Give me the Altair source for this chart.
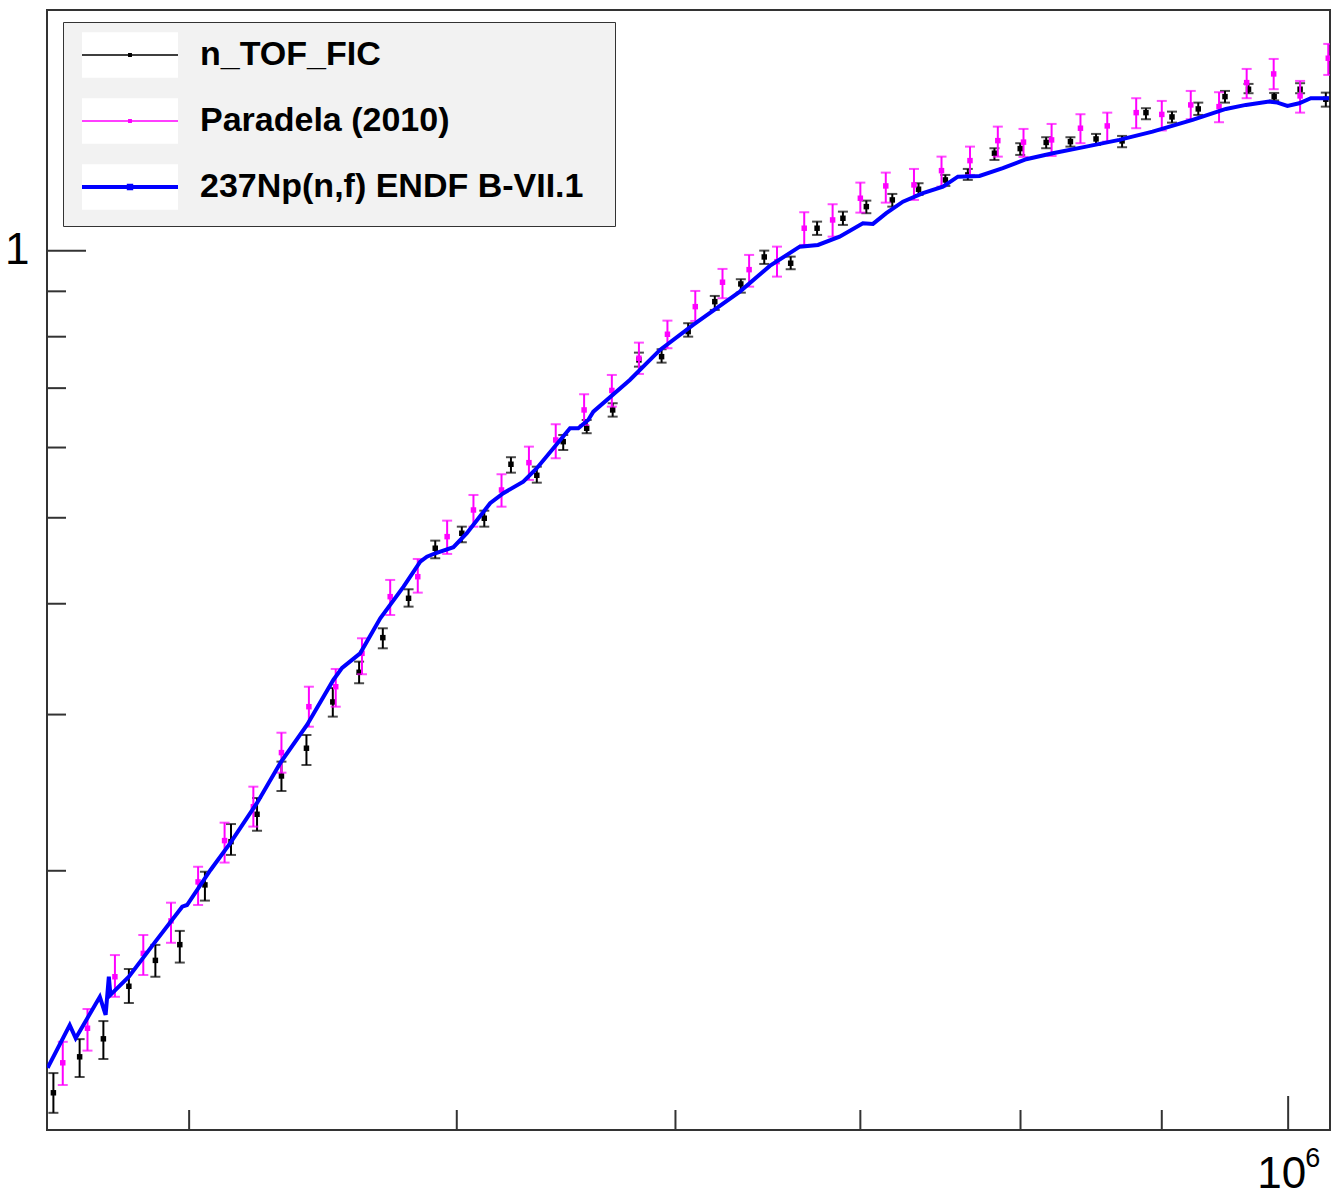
import altair as alt
import pandas as pd

SERIES = ["n_TOF_FIC", "Paradela (2010)", "237Np(n,f) ENDF B-VII.1"]
COLORS = ["#000000", "#ff00ff", "#0000ff"]
WIDTHS = [1.5, 1.5, 4]
BOX_KEYS = ["b0", "b1", "b2"]

# ---- n_TOF_FIC : neutron energy (keV), cross section (b), error-bar limits ----
tof_E = [357.2, 365.1, 372.4, 380.4, 388.9, 396.9, 405.3, 414.2, 423.3, 432.0,
         441.1, 450.9, 460.9, 470.1, 480.3, 491.1, 502.1, 511.6, 523.1, 534.5,
         546.4, 557.2, 569.4, 582.0, 593.1, 606.4, 620.0, 633.6, 646.1, 660.5,
         675.2, 689.9, 703.5, 718.9, 734.8, 751.4, 765.6, 782.8, 799.8, 817.3,
         834.0, 852.0, 870.7, 888.2, 907.7, 927.8, 948.7, 967.5, 988.4, 1010.0,
         1031.9]
tof_xs = [0.1124, 0.1234, 0.1293, 0.1482, 0.1585, 0.1651, 0.1928, 0.2157, 0.2316, 0.2558,
          0.2749, 0.3100, 0.3348, 0.3663, 0.4057, 0.4620, 0.4803, 0.4994, 0.5745, 0.5583,
          0.6092, 0.6308, 0.6615, 0.7532, 0.7596, 0.8106, 0.8762, 0.9174, 0.9840, 0.9681,
          1.0602, 1.0880, 1.1213, 1.1410, 1.1731, 1.2018, 1.2175, 1.2880, 1.3035, 1.3246,
          1.3274, 1.3367, 1.3298, 1.4311, 1.4153, 1.4450, 1.4919, 1.5208, 1.4919, 1.5208,
          1.4818]
tof_hi = [0.1183, 0.1292, 0.1354, 0.1550, 0.1650, 0.1711, 0.1995, 0.2258, 0.2416, 0.2655,
          0.2845, 0.3214, 0.3442, 0.3753, 0.4153, 0.4712, 0.4886, 0.5093, 0.5851, 0.5709,
          0.6199, 0.6445, 0.6731, 0.7676, 0.7744, 0.8285, 0.8893, 0.9287, 1.0003, 0.9848,
          1.0785, 1.1068, 1.1389, 1.1589, 1.1915, 1.2175, 1.2366, 1.3048, 1.3219, 1.3426,
          1.3426, 1.3542, 1.3472, 1.4476, 1.4349, 1.4688, 1.5141, 1.5419, 1.5062, 1.5447,
          1.5074]
tof_lo = [0.1067, 0.1171, 0.1227, 0.1419, 0.1519, 0.1576, 0.1851, 0.2084, 0.2219, 0.2460,
          0.2632, 0.2984, 0.3254, 0.3563, 0.3970, 0.4501, 0.4692, 0.4886, 0.5621, 0.5477,
          0.5962, 0.6227, 0.6501, 0.7402, 0.7479, 0.8001, 0.8576, 0.8969, 0.9663, 0.9531,
          1.0419, 1.0693, 1.1023, 1.1213, 1.1559, 1.1832, 1.2018, 1.2658, 1.2824, 1.3048,
          1.3103, 1.3161, 1.3082, 1.4068, 1.3945, 1.4226, 1.4688, 1.5051, 1.4772, 1.5051,
          1.4536]

# ---- Paradela (2010) ----
par_E = [360.0, 367.5, 376.0, 385.0, 394.0, 403.0, 412.0, 422.0, 432.0, 442.0,
         452.0, 462.0, 473.0, 484.0, 496.0, 507.0, 519.0, 531.0, 543.0, 556.0,
         569.0, 582.0, 596.0, 610.0, 624.0, 638.0, 653.0, 668.0, 684.0, 700.0,
         715.0, 732.0, 749.0, 767.0, 785.0, 802.0, 821.0, 841.0, 860.0, 881.0,
         900.0, 922.0, 944.0, 966.0, 988.0, 1010.0, 1034.0]
par_xs = [0.1215, 0.1329, 0.1519, 0.1614, 0.1756, 0.1943, 0.2163, 0.2362, 0.2718, 0.3062,
          0.3225, 0.3517, 0.4074, 0.4291, 0.4761, 0.5102, 0.5374, 0.5769, 0.6119, 0.6615,
          0.6958, 0.7565, 0.8051, 0.8649, 0.9215, 0.9521, 0.9721, 1.0602, 1.0832, 1.1460,
          1.1832, 1.1863, 1.2311, 1.2635, 1.3308, 1.3257, 1.3333, 1.3744, 1.3826, 1.4311,
          1.4245, 1.4601, 1.4536, 1.5471, 1.5824, 1.4946, 1.6482]
par_hi = [0.1283, 0.1397, 0.1607, 0.1693, 0.1841, 0.2021, 0.2266, 0.2488, 0.2862, 0.3225,
          0.3377, 0.3657, 0.4255, 0.4493, 0.4963, 0.5305, 0.5598, 0.6014, 0.6374, 0.6890,
          0.7244, 0.7878, 0.8341, 0.9009, 0.9539, 0.9892, 1.0107, 1.1051, 1.1283, 1.1934,
          1.2248, 1.2366, 1.2767, 1.3103, 1.3801, 1.3719, 1.3898, 1.4252, 1.4311, 1.4857,
          1.4753, 1.5141, 1.5090, 1.6031, 1.6452, 1.5539, 1.7106]
par_lo = [0.1147, 0.1254, 0.1442, 0.1526, 0.1659, 0.1830, 0.2043, 0.2243, 0.2580, 0.2907,
          0.3062, 0.3331, 0.3885, 0.4117, 0.4552, 0.4886, 0.5146, 0.5516, 0.5835, 0.6362,
          0.6672, 0.7263, 0.7764, 0.8334, 0.8840, 0.9110, 0.9350, 1.0152, 1.0373, 1.1040,
          1.1330, 1.1410, 1.1810, 1.2175, 1.2767, 1.2757, 1.2790, 1.3219, 1.3274, 1.3744,
          1.3665, 1.4068, 1.3959, 1.4857, 1.5208, 1.4311, 1.5783]

# ---- 237Np(n,f) ENDF/B-VII.1 evaluation ----
endf_E = [355.5, 362.1, 363.9, 371.3, 373.1, 374.1, 374.6, 380.4, 388.9, 397.7,
          399.3, 407.2, 414.0, 423.3, 431.6, 441.3, 451.1, 454.4, 461.3, 469.1,
          478.3, 485.0, 487.7, 491.1, 498.6, 504.2, 514.1, 519.8, 528.5, 534.5,
          549.5, 553.3, 557.9, 560.3, 577.6, 592.3, 608.9, 633.1, 649.1, 665.5,
          675.7, 688.0, 701.5, 707.4, 715.3, 725.3, 737.5, 749.9, 759.3, 773.1,
          788.3, 803.8, 821.8, 845.0, 868.7, 893.1, 923.4, 949.4, 965.4, 984.3,
          991.1, 999.4, 1009.2, 1019.1, 1034.7]
endf_xs = [0.1199, 0.1340, 0.1295, 0.1442, 0.1376, 0.1519, 0.1449, 0.1519, 0.1664, 0.1822,
           0.1830, 0.2004, 0.2150, 0.2385, 0.2646, 0.2920, 0.3282, 0.3386, 0.3517, 0.3852,
           0.4181, 0.4462, 0.4520, 0.4560, 0.4632, 0.4803, 0.5192, 0.5329, 0.5492, 0.5686,
           0.6308, 0.6308, 0.6445, 0.6586, 0.7151, 0.7730, 0.8248, 0.8993, 0.9613, 1.0107,
           1.0152, 1.0373, 1.0740, 1.0721, 1.1023, 1.1359, 1.1610, 1.1810, 1.2121, 1.2143,
           1.2388, 1.2681, 1.2880, 1.3103, 1.3333, 1.3623, 1.4043, 1.4450, 1.4601, 1.4726,
           1.4688, 1.4563, 1.4665, 1.4857, 1.4857]

# axis decoration values
X_MINOR = [4e5, 5e5, 6e5, 7e5, 8e5, 9e5]
X_MAJOR = [1e6]
Y_MINOR = [0.2, 0.3, 0.4, 0.5, 0.6, 0.7, 0.8, 0.9]
Y_MAJOR = [1.0]
X_LABEL_BASE = "10"
X_LABEL_EXP = "6"

W, H = 1283, 1120
KEV = 1000.0

tof = pd.DataFrame({"E": [e * KEV for e in tof_E], "v": tof_xs, "lo": tof_lo, "hi": tof_hi})
par = pd.DataFrame({"E": [e * KEV for e in par_E], "v": par_xs, "lo": par_lo, "hi": par_hi})
endf = pd.DataFrame({"E": [e * KEV for e in endf_E], "v": endf_xs, "series": SERIES[2]})

xscale = alt.Scale(type="log", domain=[355.3e3, 1035.5e3], nice=False)
yscale = alt.Scale(type="log", domain=[0.10205, 1.868], nice=False)

x_axis = alt.Axis(values=X_MAJOR, labelExpr=f"'{X_LABEL_BASE}'", title=None, domain=False,
                  ticks=False, tickSize=0, grid=False, labelFont="Liberation Sans",
                  labelFontSize=44, labelColor="black", labelPadding=22, labelOffset=-7,
                  labelFlush=False)
y_axis = alt.Axis(values=Y_MAJOR, labelExpr="'1'", title=None, domain=False, ticks=False,
                  tickSize=0, grid=False, labelFont="Liberation Sans", labelFontSize=44,
                  labelColor="black", labelPadding=18)


def X():
    return alt.X("E:Q", scale=xscale, axis=x_axis)


def Y(field):
    return alt.Y(f"{field}:Q", scale=yscale, axis=y_axis)


def data_layers(df, color):
    base = alt.Chart(df)
    bars = base.mark_rule(color=color, strokeWidth=2, clip=True).encode(
        x=X(), y=Y("lo"), y2="hi:Q")
    cap_lo = base.mark_tick(color=color, orient="horizontal", size=10, thickness=2,
                            clip=True).encode(x=X(), y=Y("lo"))
    cap_hi = base.mark_tick(color=color, orient="horizontal", size=10, thickness=2,
                            clip=True).encode(x=X(), y=Y("hi"))
    pts = base.mark_square(color=color, size=30, opacity=1, clip=True).encode(
        x=X(), y=Y("v"))
    return [bars, cap_lo, cap_hi, pts]


common_leg = dict(title=" ", orient="none", legendX=16, legendY=12, symbolSize=576,
                  symbolOffset=34, labelOffset=53, padding=16,
                  labelFont="Liberation Sans", labelFontSize=34, labelFontWeight="bold",
                  labelLimit=700, titleOrient="right", titleFontSize=10)

# background legend: grey framed box with white panels behind the symbols
BOX = "M-4,-1.9H4V1.9H-4Z"
legA = dict(common_leg, symbolType=BOX, fillColor="#f2f2f2", strokeColor="#333333",
            labelColor="black", labelExpr="' '", symbolStrokeWidth=0,
            rowPadding=20, titlePadding=399)
box_layer = alt.Chart(alt.InlineData(values=[])).mark_square(opacity=1).encode(
    x=alt.X("E:Q", scale=xscale, axis=x_axis),
    y=alt.Y("v:Q", scale=yscale, axis=y_axis),
    fill=alt.Fill("box:N", scale=alt.Scale(domain=BOX_KEYS, range=["white"] * 3),
                  legend=alt.Legend(**legA)),
)

# foreground legend: line + marker symbols and labels
SYMBOL = "M-4,0H4M-0.1,-0.1H0.1V0.1H-0.1Z"
legB = dict(common_leg, symbolType=SYMBOL, fillColor="transparent",
            strokeColor="transparent", labelColor="black", rowPadding=32, titlePadding=14)

line = alt.Chart(endf).mark_line(clip=True).encode(
    x=X(), y=Y("v"),
    color=alt.Color("series:N", scale=alt.Scale(domain=SERIES, range=COLORS),
                    legend=alt.Legend(**legB)),
    strokeWidth=alt.StrokeWidth("series:N",
                                scale=alt.Scale(type="ordinal", domain=SERIES, range=WIDTHS),
                                legend=alt.Legend(**legB)),
)

tick_color = "#333333"
xt_minor = alt.Chart(pd.DataFrame({"E": X_MINOR})).mark_rule(color=tick_color, strokeWidth=2).encode(
    x=X(), y=alt.value(H), y2=alt.value(H - 20))
xt_major = alt.Chart(pd.DataFrame({"E": X_MAJOR})).mark_rule(color=tick_color, strokeWidth=2).encode(
    x=X(), y=alt.value(H), y2=alt.value(H - 34))
yt_minor = alt.Chart(pd.DataFrame({"v": Y_MINOR})).mark_rule(color=tick_color, strokeWidth=2).encode(
    y=Y("v"), x=alt.value(0), x2=alt.value(19))
yt_major = alt.Chart(pd.DataFrame({"v": Y_MAJOR})).mark_rule(color=tick_color, strokeWidth=2).encode(
    y=Y("v"), x=alt.value(0), x2=alt.value(39))

# exponent of the "10^6" axis label
exp_label = alt.Chart(pd.DataFrame({"E": X_MAJOR, "t": [X_LABEL_EXP]})).mark_text(
    align="left", baseline="alphabetic", font="Liberation Sans", fontSize=27,
    color="black", dx=17).encode(x=X(), y=alt.value(H + 37), text="t:N")

layers = ([box_layer, xt_minor, xt_major, yt_minor, yt_major]
          + data_layers(tof, COLORS[0])
          + data_layers(par, COLORS[1])
          + [line, exp_label])

chart = alt.layer(*layers).properties(
    width=W, height=H,
    autosize=alt.AutoSizeParams(type="none"),
    padding={"left": 47, "top": 10, "right": 2, "bottom": 65},
    background="white",
).configure_view(stroke="#333333", strokeWidth=2)

chart.save("out.html", embed_options={"renderer": "svg", "actions": False})
